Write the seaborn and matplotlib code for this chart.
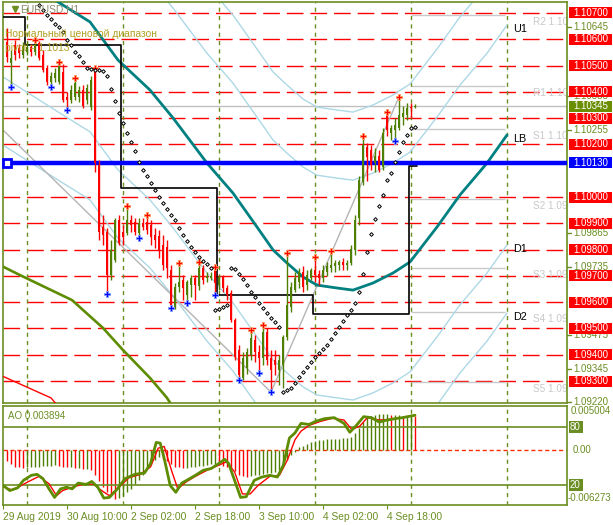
import numpy as np
import pandas as pd
import matplotlib
matplotlib.use("Agg")
import matplotlib.pyplot as plt
from matplotlib.patches import Rectangle
import seaborn as sns

sns.set_style("white")
plt.rcParams['font.family'] = ['Liberation Sans', 'DejaVu Sans']

# ---------------- data ----------------
open_ = [1.10590,1.10510,1.10578,1.10567,1.10540,1.10552,1.10571,1.10552,1.10586,1.10540,
         1.10491,1.10438,1.10453,1.10438,1.10476,1.10381,1.10369,1.10381,1.10381,1.10407,
         1.10369,1.10342,1.10476,1.10122,1.09886,1.09867,1.09703,1.09760,1.09913,1.09867,
         1.09863,1.09913,1.09905,1.09863,1.09901,1.09905,1.09894,1.09856,1.09852,1.09818,
         1.09810,1.09722,1.09582,1.09658,1.09684,1.09627,1.09665,1.09692,1.09662,1.09730,
         1.09692,1.09692,1.09722,1.09665,1.09696,1.09654,1.09635,1.09532,1.09418,1.09312,
         1.09350,1.09399,1.09456,1.09411,1.09388,1.09487,1.09388,1.09380,1.09342,1.09361,
         1.09468,1.09582,1.09646,1.09677,1.09715,1.09665,1.09692,1.09722,1.09707,1.09692,
         1.09715,1.09730,1.09738,1.09741,1.09753,1.09741,1.09749,1.09799,1.09920,1.10057,
         1.10190,1.10179,1.10129,1.10156,1.10114,1.10316,1.10244,1.10255,1.10263,1.10304,
         1.10312,1.10342,1.10342]
high = [1.10643,1.10559,1.10597,1.10582,1.10590,1.10590,1.10582,1.10597,1.10594,1.10559,
        1.10502,1.10476,1.10491,1.10514,1.10506,1.10400,1.10426,1.10453,1.10422,1.10426,
        1.10430,1.10460,1.10491,1.10141,1.09932,1.09882,1.09837,1.09920,1.09932,1.09894,
        1.09966,1.09932,1.09920,1.09920,1.09920,1.09932,1.09913,1.09882,1.09875,1.09856,
        1.09837,1.09741,1.09673,1.09749,1.09703,1.09684,1.09703,1.09703,1.09753,1.09741,
        1.09715,1.09715,1.09734,1.09703,1.09703,1.09665,1.09646,1.09540,1.09437,1.09411,
        1.09426,1.09494,1.09475,1.09437,1.09513,1.09502,1.09418,1.09418,1.09399,1.09475,
        1.09787,1.09677,1.09715,1.09730,1.09738,1.09722,1.09730,1.09772,1.09722,1.09741,
        1.09753,1.09795,1.09760,1.09760,1.09768,1.09760,1.09818,1.09932,1.10080,1.10232,
        1.10206,1.10198,1.10187,1.10179,1.10263,1.10323,1.10274,1.10301,1.10381,1.10346,
        1.10358,1.10358,1.10354]
low = [1.10514,1.10419,1.10521,1.10529,1.10529,1.10540,1.10536,1.10540,1.10521,1.10476,
       1.10426,1.10419,1.10438,1.10430,1.10361,1.10331,1.10358,1.10369,1.10361,1.10339,
       1.10354,1.10331,1.10095,1.09837,1.09818,1.09631,1.09684,1.09753,1.09818,1.09818,
       1.09856,1.09867,1.09856,1.09844,1.09875,1.09859,1.09818,1.09806,1.09768,1.09722,
       1.09692,1.09578,1.09574,1.09639,1.09608,1.09597,1.09620,1.09608,1.09646,1.09669,
       1.09677,1.09684,1.09627,1.09646,1.09639,1.09608,1.09525,1.09380,1.09304,1.09304,
       1.09327,1.09380,1.09373,1.09331,1.09361,1.09361,1.09258,1.09323,1.09285,1.09274,
       1.09456,1.09563,1.09639,1.09654,1.09639,1.09646,1.09684,1.09677,1.09665,1.09677,
       1.09700,1.09715,1.09715,1.09722,1.09722,1.09722,1.09741,1.09780,1.09894,1.10046,
       1.10061,1.10103,1.10095,1.10095,1.10103,1.10232,1.10217,1.10213,1.10255,1.10274,
       1.10293,1.10301,1.10339]
close = [1.10533,1.10529,1.10540,1.10548,1.10574,1.10571,1.10552,1.10578,1.10529,1.10483,
         1.10438,1.10460,1.10472,1.10510,1.10369,1.10369,1.10407,1.10434,1.10407,1.10346,
         1.10415,1.10445,1.10129,1.09867,1.09856,1.09703,1.09799,1.09913,1.09825,1.09848,
         1.09913,1.09894,1.09867,1.09901,1.09886,1.09875,1.09848,1.09837,1.09799,1.09741,
         1.09730,1.09589,1.09658,1.09677,1.09654,1.09677,1.09692,1.09665,1.09730,1.09684,
         1.09700,1.09700,1.09673,1.09696,1.09654,1.09627,1.09532,1.09392,1.09323,1.09388,
         1.09411,1.09464,1.09411,1.09388,1.09487,1.09380,1.09342,1.09361,1.09380,1.09468,
         1.09589,1.09658,1.09692,1.09715,1.09658,1.09703,1.09722,1.09703,1.09692,1.09722,
         1.09738,1.09741,1.09749,1.09753,1.09741,1.09749,1.09802,1.09913,1.10065,1.10198,
         1.10152,1.10122,1.10156,1.10103,1.10244,1.10255,1.10263,1.10274,1.10312,1.10320,
         1.10339,1.10339,1.10345]

fractal_up = [7, 13, 17, 22, 30, 35, 43, 48, 52, 61, 64, 70, 77, 81, 89, 95, 98]
fractal_dn = [1, 11, 15, 25, 33, 41, 45, 52, 58, 63, 66, 97]

sar_start = 8
sar = [1.10730,1.10711,1.10692,1.10677,1.10658,1.10647,1.10628,1.10597,1.10578,1.10552,
       1.10536,1.10514,1.10491,1.10487,1.10483,1.10483,1.10479,1.10460,1.10411,1.10365,
       1.10320,1.10282,1.10244,1.10209,1.10175,1.10133,1.10103,1.10080,1.10053,1.10027,
       1.10000,1.09977,1.09954,1.09932,1.09913,1.09882,1.09856,1.09833,1.09810,1.09791,
       1.09772,1.09757,1.09745,1.09730,1.09570,1.09574,1.09582,1.09589,1.09730,1.09726,
       1.09707,1.09688,1.09665,1.09639,1.09620,1.09597,1.09578,1.09559,1.09540,1.09525,
       1.09506,1.09258,1.09266,1.09274,1.09293,1.09315,1.09334,1.09353,1.09373,1.09392,
       1.09407,1.09422,1.09437,1.09460,1.09483,1.09506,1.09529,1.09551,1.09570,1.09597,
       1.09639,1.09707,1.09791,1.09859,1.09916,1.09966,1.10008,1.10065,1.10091,1.10133,
       1.10171,1.10209,1.10236,1.10263,1.10266]

ma_x = [-1.75, 12, 20.75, 27.75, 35.75, 41.5, 50, 56.5, 62.5, 66.5, 70, 74, 77.5,
        82.5, 86.5, 91.5, 96.5, 100.75, 107.5, 113.25, 120, 125]
ma_teal = [1.10882,1.10749,1.10666,1.10521,1.10407,1.10301,1.10129,1.10015,1.09886,1.09799,
           1.09749,1.09696,1.09665,1.09654,1.09646,1.09673,1.09711,1.09753,1.09886,1.10008,
           1.10129,1.10236]
band_up1 = [1.11300,1.11167,1.11084,1.10939,1.10825,1.10719,1.10547,1.10433,1.10304,1.10217,
            1.10167,1.10114,1.10083,1.10072,1.10064,1.10091,1.10129,1.10171,1.10304,1.10426,
            1.10547,1.10654]
band_up2 = [1.11559,1.11426,1.11343,1.11198,1.11084,1.10978,1.10806,1.10692,1.10563,1.10476,
            1.10426,1.10373,1.10342,1.10331,1.10323,1.10350,1.10388,1.10430,1.10563,1.10685,
            1.10806,1.10913]
band_dn1 = [1.10464,1.10331,1.10248,1.10103,1.09989,1.09883,1.09711,1.09597,1.09468,1.09381,
            1.09331,1.09278,1.09247,1.09236,1.09228,1.09255,1.09293,1.09335,1.09468,1.09590,
            1.09711,1.09818]
band_dn2 = [1.10205,1.10072,1.09989,1.09844,1.09730,1.09624,1.09452,1.09338,1.09209,1.09122,
            1.09072,1.09019,1.08988,1.08977,1.08969,1.08996,1.09034,1.09076,1.09209,1.09331,
            1.09452,1.09559]

olive_ma_x = [-1.75, 3.25, 16.25, 24, 29, 35.75, 40, 41.5]
olive_ma = [1.09741, 1.09703, 1.09608, 1.09502, 1.09418, 1.09312, 1.09236, 1.09200]
red_ma_x = [-1.75, 11, 13]
red_ma = [1.09323, 1.09236, 1.09200]

zigzag_x = [-1.75, 66, 98]
zigzag_y = [1.10266, 1.09258, 1.10381]

range_x = [-1.75, 4.5, 28.5, 52.5, 76.5, 100.5, 102.4]
range_y = [1.10685, 1.10578, 1.10034, 1.09627, 1.09555, 1.10118, 1.10118]

day_starts = [5, 29, 53, 77, 101, 125]
red_levels = [1.107, 1.106, 1.105, 1.104, 1.103, 1.102, 1.100, 1.099, 1.098, 1.097,
              1.096, 1.095, 1.094, 1.093]
blue_level = 1.10130
bid = 1.10345
pivot_names = ["R2", "R1", "S1", "S2", "S3", "S4", "S5"]
pivot_vals = [1.10692, 1.10422, 1.10259, 1.09993, 1.09730, 1.09563, 1.09297]
axis_ticks = [1.10645, 1.10385, 1.10255, 1.09865, 1.09735, 1.09475, 1.09345, 1.09220]
band_tags = [("U1", 1.10654), ("LB", 1.10236), ("D1", 1.09818), ("D2", 1.09559)]

ao = [-0.0013,-0.0016,-0.0019,-0.0020,-0.0021,
      -0.0020,-0.0020,-0.0019,-0.0019,-0.0018,-0.0018,-0.0018,-0.0017,
      -0.0018,-0.0019,-0.0020,-0.0020,-0.0021,-0.0021,-0.0022,-0.0022,-0.0023,
      -0.0028,-0.0035,-0.0042,-0.0048,-0.0053,-0.0056,
      -0.0055,-0.0052,-0.0048,-0.0044,-0.0039,-0.0034,-0.0028,-0.0022,-0.0016,-0.0011,-0.0008,
      -0.0010,-0.0013,-0.0016,-0.0019,-0.0020,-0.0021,-0.0021,
      -0.0020,-0.0019,-0.0018,-0.0018,-0.0017,-0.0016,-0.0016,
      -0.0017,-0.0018,-0.0019,-0.0021,-0.0024,-0.0028,-0.0030,-0.0031,
      -0.0030,-0.0029,-0.0028,-0.0027,-0.0026,-0.0026,-0.0025,-0.0023,
      -0.0018,-0.0012,-0.0006,-0.0002,
      0.0003,0.0005,0.0007,0.0009,0.0010,0.0011,0.0011,0.0012,0.0012,0.0013,0.0013,0.0014,0.0014,0.0015,
      0.0019,0.0025,0.0032,0.0037,0.0039,0.0040,0.0041,0.0041,0.0041,0.0040,0.0040,0.0040,0.0039,0.0039,0.0039,0.003894]

stoch_k_x = [-0.97,0.7,2.65,4.1,6.1,7.5,9.0,10.5,11.9,13.4,14.9,16.3,17.8,19.8,21.2,22.7,24.2,25.6,
             27.6,29.5,31.97,34.4,35.9,37.3,38.3,39.3,40.8,42.2,43.7,45.2,47.1,49.1,51.0,53.0,54.45,
             55.4,56.9,58.4,59.8,61.8,63.7,65.7,67.6,69.1,70.6,72.0,73.5,75.5,77.4,79.4,81.8,84.25,
             85.7,87.2,89.15,91.1,93.05,95.0,97.0,98.9,102]
stoch_k = [19.3,14.0,16.8,24.6,29.9,30.9,26.4,15.8,6.9,15.8,17.5,15.8,21.8,20.4,23.5,17.5,6.2,6.9,
           15.8,26.4,30.9,32.4,42.2,64.1,63.4,47.5,19.3,12.2,21.8,25.3,29.9,35.2,36.9,42.2,46.5,
           42.2,24.6,6.9,7.6,24.6,28.1,29.9,28.1,40.5,68.7,74.0,83.9,82.8,86.4,88.8,89.9,83.9,
           74.7,81.1,90.9,89.9,85.3,87.4,88.8,89.9,92.4]
stoch_d_x = [-0.97,1.18,3.13,5.1,8.0,10.5,12.4,13.9,15.8,17.8,19.75,21.7,23.65,25.6,27.6,30.5,33.4,
             35.9,37.8,39.3,41.25,42.7,44.7,47.1,50.05,53.0,54.9,56.9,58.85,60.8,62.75,65.7,68.1,
             70.1,72.0,73.5,75.5,78.4,81.3,84.25,86.2,88.2,90.1,93.05,96.0,98.9,102]
stoch_d = [18.2,14.7,18.2,22.8,28.8,21.1,8.7,14.0,16.8,19.3,21.1,20.4,14.0,8.7,15.8,27.4,30.9,
           38.7,58.1,59.9,33.4,15.8,22.8,28.8,35.2,40.5,44.0,33.4,10.5,10.5,19.3,28.8,29.9,
           45.8,66.9,75.8,81.8,86.0,89.2,87.4,77.5,81.1,89.9,87.4,88.1,89.9,92.4]

time_ticks = [-1, 15, 31, 47, 63, 79, 95]
time_labels = ["29 Aug 2019", "30 Aug 10:00", "2 Sep 02:00", "2 Sep 18:00",
               "3 Sep 10:00", "4 Sep 02:00", "4 Sep 18:00"]

# ---------------- styles ----------------
OLIVE = '#6B8E23'
BULL = '#4F7F00'
BEAR = '#FF0000'
LBLUE = '#ADD8E6'
FS = 6.6

df = pd.DataFrame({'bar': np.arange(len(close)), 'open': open_, 'high': high,
                   'low': low, 'close': close, 'ao': ao})
df['bull'] = df['close'] >= df['open']

W, H = 613, 525
fig = plt.figure(figsize=(W / 100, H / 100), dpi=100)
fig.patch.set_facecolor('white')
ax = fig.add_axes([3 / W, 1 - 403 / H, 564 / W, 401 / H])
ax2 = fig.add_axes([3 / W, 1 - 505 / H, 564 / W, 99 / H])
YMIN, YMAX = 1.092166, 1.107418
XMIN, XMAX = -1.0, 140.0

for a in (ax, ax2):
    a.set_xlim(XMIN, XMAX)
    a.set_xticks([]); a.set_yticks([])
    a.set_facecolor('white')
    for s in a.spines.values():
        s.set_color(OLIVE); s.set_linewidth(1.2)
ax.set_ylim(YMIN, YMAX)

# horizontal levels
for lv in red_levels:
    ax.axhline(lv, color='red', lw=1.0, dashes=(12, 5), zorder=1)
ax.axhline(bid, color='#c0c0c0', lw=1.0, zorder=1)
ax.hlines(pivot_vals, day_starts[-2], day_starts[-1] - 0.5, color='#c8c8c8', lw=1.0, zorder=1)
for nm, pv in zip(pivot_names, pivot_vals):
    ax.text(131.5, pv - 0.00008, f"{nm} {pv:.4f}", color='#c8c8c8', fontsize=FS + 0.6,
            va='top', ha='left', clip_on=True, zorder=1)

for d in day_starts:
    ax.axvline(d, color=OLIVE, lw=1.0, dashes=(3, 3), zorder=1)
    ax2.axvline(d, color=OLIVE, lw=1.0, dashes=(3, 3), zorder=1)

# envelope bands + moving averages
for band in (band_up1, band_up2, band_dn1, band_dn2):
    sns.lineplot(x=ma_x, y=band, ax=ax, color=LBLUE, lw=1.0, sort=False, zorder=2)
sns.lineplot(x=zigzag_x, y=zigzag_y, ax=ax, color='#b4b4b4', lw=1.0, sort=False, zorder=2)
sns.lineplot(x=ma_x, y=ma_teal, ax=ax, color='#008080', lw=2.0, sort=False, zorder=3)
sns.lineplot(x=olive_ma_x, y=olive_ma, ax=ax, color='#5E8C00', lw=1.9, sort=False, zorder=3)
sns.lineplot(x=red_ma_x, y=red_ma, ax=ax, color='red', lw=1.0, sort=False, zorder=3)
ax.step(range_x, range_y, where='post', color='black', lw=1.2, zorder=3)

ax.axhline(blue_level, color='#0000FF', lw=3.2, zorder=4)
ax.plot([0.0], [blue_level], marker='s', ms=6, mfc='white', mec='#0000FF', mew=2, zorder=5, clip_on=False)

# candles
cols = np.where(df['bull'], BULL, BEAR)
ax.vlines(df['bar'], df['low'], df['high'], colors=cols, lw=1.0, zorder=5)
body_lo = np.minimum(df['open'], df['close'])
body_h = np.maximum(np.abs(df['close'] - df['open']), 0.00003)
ax.bar(df['bar'], body_h, bottom=body_lo, width=0.72, color=cols, linewidth=0, zorder=6)

# fractals
fu = df.loc[fractal_up]
fd = df.loc[fractal_dn]
ax.scatter(fu['bar'], fu['high'], marker='P', s=20, c='red', edgecolors='#FFA060', linewidths=0.6, zorder=7)
ax.scatter(fd['bar'], fd['low'], marker='P', s=20, c='#0000FF', edgecolors='#80A0FF', linewidths=0.6, zorder=7)

# parabolic SAR
sar_df = pd.DataFrame({'bar': np.arange(sar_start, sar_start + len(sar)), 'sar': sar})
sns.scatterplot(data=sar_df, x='bar', y='sar', ax=ax, marker='D', s=3.5, color='white',
                edgecolor='black', linewidth=0.7, zorder=8, legend=False)
ax.set_xlabel(''); ax.set_ylabel('')

# texts
ax.plot([2.0], [1.10715], marker='v', ms=5, color=OLIVE, clip_on=False, zorder=9)
ax.text(3.2, 1.10715, "EURUSD,H1", color='#8c8c70', fontsize=FS + 0.8, va='center', ha='left', zorder=9)
ax.text(-0.5, 1.10620, "Нормальный ценовой диапазон", color='#B0A020', fontsize=FS + 0.8,
        va='center', ha='left', zorder=9)
ax.text(-0.5, 1.10568, "pivot = 1.1013", color='#B0A020', fontsize=FS + 0.8, va='center', ha='left', zorder=9)
for tag, pv in band_tags:
    ax.text(126.5, pv - 0.00015, tag, color='black', fontsize=FS + 1.2, va='center', ha='left', zorder=9)

# right axis labels
yt = ax.get_yaxis_transform()
BOXW = 43 / 564
BOXH = 11 / 26290 * 1.0
def box_label(a, tr, y, txt, fc, tc='white', h=BOXH):
    a.add_patch(Rectangle((1 + 1.5 / 564, y - h / 2), BOXW, h, transform=tr, facecolor=fc,
                          edgecolor='none', clip_on=False, zorder=10))
    a.text(1 + 6 / 564, y, txt, transform=tr, color=tc, fontsize=FS + 0.4, va='center', ha='left',
           clip_on=False, zorder=11)

for t in axis_ticks:
    ax.plot([1, 1 + 4 / 564], [t, t], transform=yt, color=OLIVE, lw=1, clip_on=False)
    ax.text(1 + 6 / 564, t, f"{t:.5f}", transform=yt, color=OLIVE, fontsize=FS + 0.4,
            va='center', ha='left', clip_on=False, zorder=9)
for lv in red_levels:
    box_label(ax, yt, lv, f"{lv:.5f}", 'red')
box_label(ax, yt, bid, f"{bid:.5f}", '#6B8E00')
box_label(ax, yt, blue_level, f"{blue_level:.5f}", '#0000FF')

# ---------------- AO / stochastic panel ----------------
AO_MIN, AO_MAX = -0.006273, 0.005004
ax2.set_ylim(AO_MIN, AO_MAX)
ao_prev = np.r_[ao[0] + 0.0003, ao[:-1]]
ao_cols = np.where(np.array(ao) >= ao_prev, BULL, BEAR)
ax2.vlines(df['bar'], 0, df['ao'], colors=ao_cols, lw=1.0, zorder=2)
ax2.axhline(0, color='#FF3000', lw=1.0, dashes=(3, 2), zorder=1)

ax3 = fig.add_axes(ax2.get_position(), sharex=ax2)
ax3.set_ylim(-1, 102)
ax3.axis('off')
ax3.patch.set_alpha(0)
ax3.axhline(80, color=OLIVE, lw=1.2)
ax3.axhline(20, color=OLIVE, lw=1.2)
sns.lineplot(x=stoch_d_x, y=stoch_d, ax=ax3, color='red', lw=1.0, sort=False)
sns.lineplot(x=stoch_k_x, y=stoch_k, ax=ax3, color='#5E8C00', lw=2.0, sort=False)
ax3.set_xlim(XMIN, XMAX)

ax2.text(0.2, AO_MAX - 0.0011, "AO 0.003894", color=OLIVE, fontsize=FS + 0.4, va='center', ha='left')
yt2 = ax2.get_yaxis_transform()
yt3 = ax3.get_yaxis_transform()
RIGHT = 1 + 44 / 564
ax2.text(RIGHT, AO_MAX - 0.00055, "0.005004", transform=yt2, color=OLIVE, fontsize=FS + 0.4,
         va='center', ha='right', clip_on=False)
ax2.text(1 + 6 / 564, 0, "0.00", transform=yt2, color=OLIVE, fontsize=FS + 0.4,
         va='center', ha='left', clip_on=False)
ax2.text(RIGHT, AO_MIN + 0.00085, "-0.006273", transform=yt2, color=OLIVE, fontsize=FS + 0.4,
         va='center', ha='right', clip_on=False)
for lv in (80, 20):
    ax3.add_patch(Rectangle((1 + 1.5 / 564, lv - 6.0), 14 / 564, 12.0, transform=yt3,
                            facecolor=OLIVE, edgecolor='none', clip_on=False, zorder=10))
    ax3.text(1 + 3 / 564, lv, str(lv), transform=yt3, color='white', fontsize=FS + 0.4,
             va='center', ha='left', clip_on=False, zorder=11)

ax2.set_xticks(time_ticks)
ax2.set_xticklabels(time_labels, ha='left', color=OLIVE, fontsize=FS + 0.8)
ax2.tick_params(axis='x', length=3, color=OLIVE, pad=2, bottom=True)

fig.savefig("out.png", dpi=100, facecolor='white')
